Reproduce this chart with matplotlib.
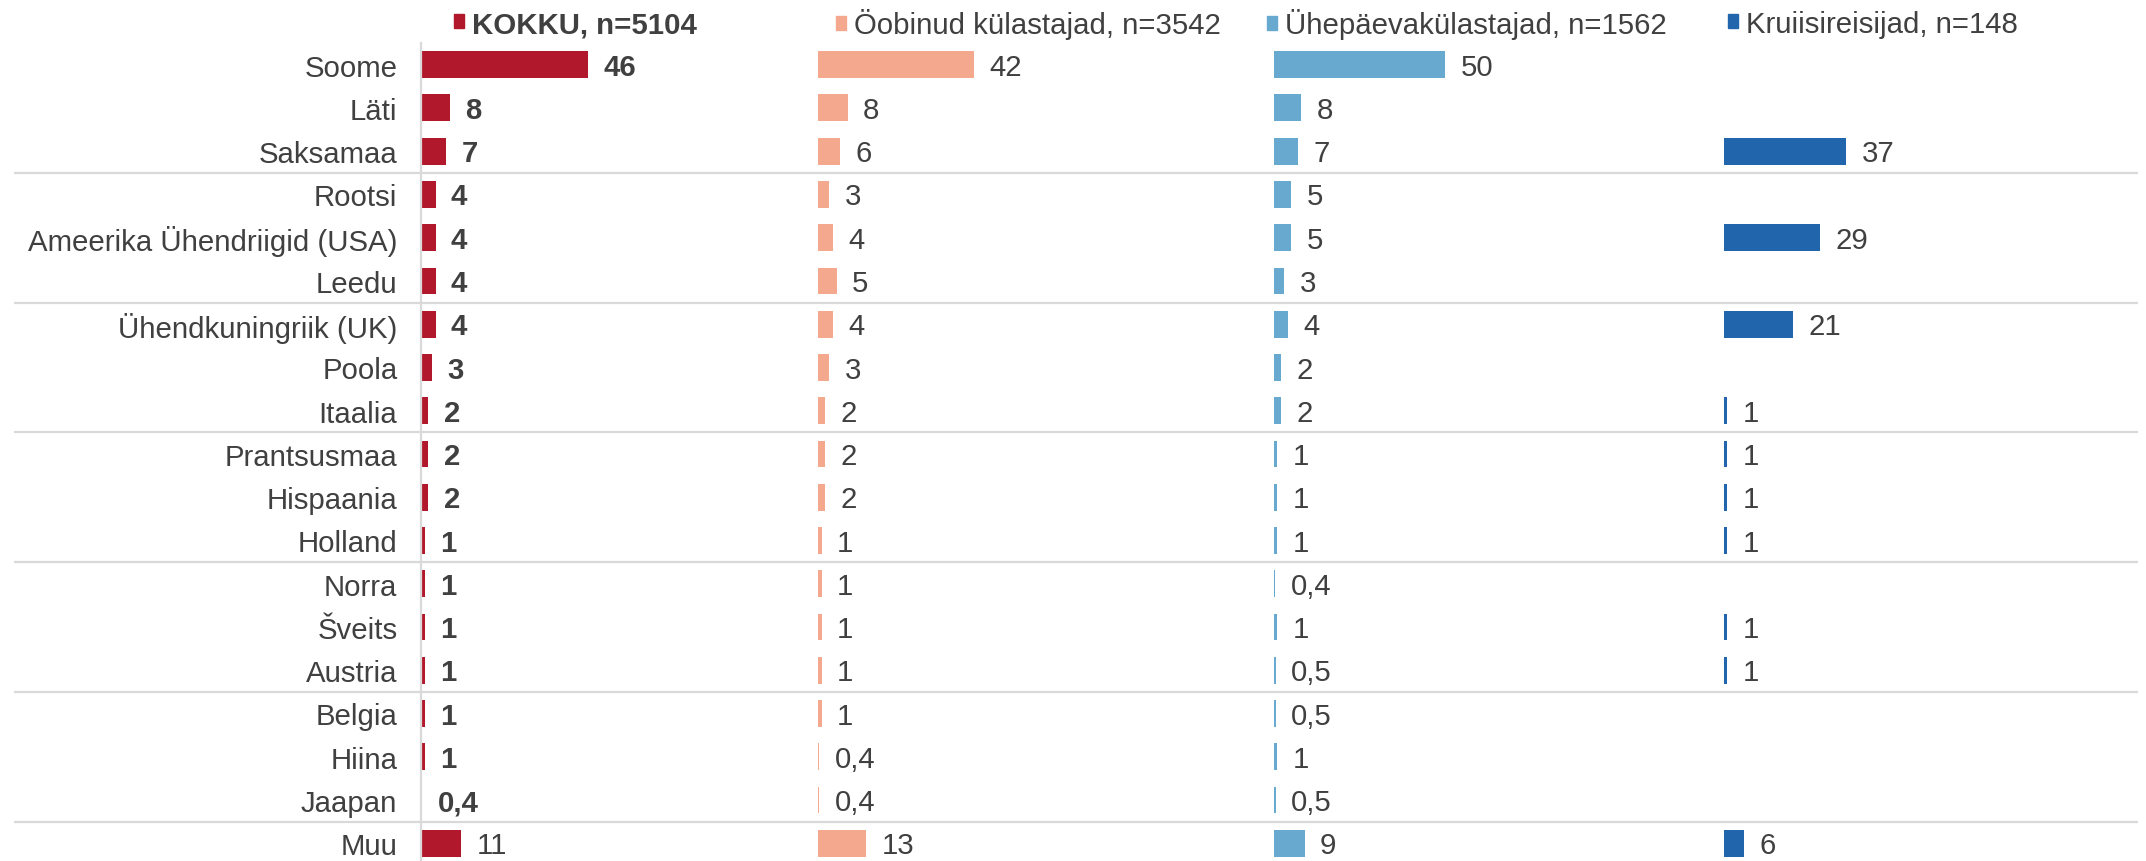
import matplotlib
matplotlib.use("Agg")
import matplotlib.pyplot as plt
from matplotlib.patches import Patch
import numpy as np

plt.rcParams["font.family"] = ["Liberation Sans", "DejaVu Sans"]

countries = [
    "Soome", "Läti", "Saksamaa", "Rootsi", "Ameerika Ühendriigid (USA)", "Leedu",
    "Ühendkuningriik (UK)", "Poola", "Itaalia", "Prantsusmaa", "Hispaania", "Holland",
    "Norra", "Šveits", "Austria", "Belgia", "Hiina", "Jaapan", "Muu",
]
kokku = [46, 8, 7, 4, 4, 4, 4, 3, 2, 2, 2, 1, 1, 1, 1, 1, 1, 0.4, 11]
oobinud = [42, 8, 6, 3, 4, 5, 4, 3, 2, 2, 2, 1, 1, 1, 1, 1, 0.4, 0.4, 13]
uhepaeva = [50, 8, 7, 5, 5, 3, 4, 2, 2, 1, 1, 1, 0.4, 1, 0.5, 0.5, 1, 0.5, 9]
kruiis = [None, None, 37, None, 29, None, 21, None, 1, 1, 1, 1, None, 1, 1, None, None, None, 6]

series_names = ["KOKKU, n=5104", "Öobinud külastajad, n=3542",
                "Ühepäevakülastajad, n=1562", "Kruiisireisijad, n=148"]
colors = ["#B2182B", "#F4A98F", "#67A9CF", "#2166AC"]

TXT = "#404040"
GRID = "#D9D9D9"
FS = 21.2

W, H = 2146, 862
fig = plt.figure(figsize=(W / 100, H / 100), dpi=100)

rows = np.arange(len(countries))
ylim = (18.41, -0.5)
ax_top = 1 - 44 / H

# background axes for the group separator lines
bg = fig.add_axes([14 / W, 0, (2138 - 14) / W, ax_top])
bg.set_ylim(*ylim)
bg.set_xlim(0, 1)
bg.axis("off")
for yy in [2.5, 5.5, 8.5, 11.5, 14.5, 17.5]:
    bg.axhline(yy, color=GRID, lw=1.6)

# column pixel extents and x-limits (each column has its own scale)
cols = [(421, 810, 107), (818, 1266, 120.8), (1274, 1716, 129), (1724, 2140, 126)]
legend_x = [454, 836, 1267, 1728]
data = [kokku, oobinud, uhepaeva, kruiis]


def fmt(v):
    if v < 1:
        return f"{v:.1f}".replace(".", ",")
    return f"{v:g}"


for i, ((x0, x1, xmax), vals, color, name) in enumerate(zip(cols, data, colors, series_names)):
    ax = fig.add_axes([x0 / W, 0, (x1 - x0) / W, ax_top])
    ax.patch.set_alpha(0)
    v = np.array([np.nan if x is None else x for x in vals], dtype=float)
    ax.barh(rows, v, height=0.62, color=color)
    ax.set_xlim(0, xmax)
    ax.set_ylim(*ylim)
    ax.set_xticks([])
    for s in ["top", "right", "bottom"]:
        ax.spines[s].set_visible(False)
    if i == 0:
        ax.spines["left"].set_color(GRID)
        ax.spines["left"].set_linewidth(1.6)
        ax.set_yticks(rows)
        ax.set_yticklabels(countries, fontsize=FS, color=TXT)
        ax.tick_params(axis="y", length=0, pad=17)
    else:
        ax.spines["left"].set_visible(False)
        ax.set_yticks([])

    for r, val in zip(rows, vals):
        if val is None:
            continue
        # KOKKU values in bold, except the "Muu" row
        bold = i == 0 and r != rows[-1]
        ax.annotate(fmt(val), (val, r), xytext=(11, -1.5), textcoords="offset points",
                    ha="left", va="center", fontsize=FS, color=TXT,
                    fontweight="bold" if bold else "normal")

    leg = ax.legend(handles=[Patch(color=color, label=name)], loc="center left",
                    bbox_to_anchor=(legend_x[i] / W, 1 - 25 / H),
                    bbox_transform=fig.transFigure, frameon=False,
                    handlelength=0.35, handleheight=0.35, handletextpad=0.25,
                    borderpad=0, borderaxespad=0,
                    prop={"size": FS, "weight": "bold" if i == 0 else "normal"})
    for t in leg.get_texts():
        t.set_color(TXT)

fig.savefig("out.png", dpi=100)
